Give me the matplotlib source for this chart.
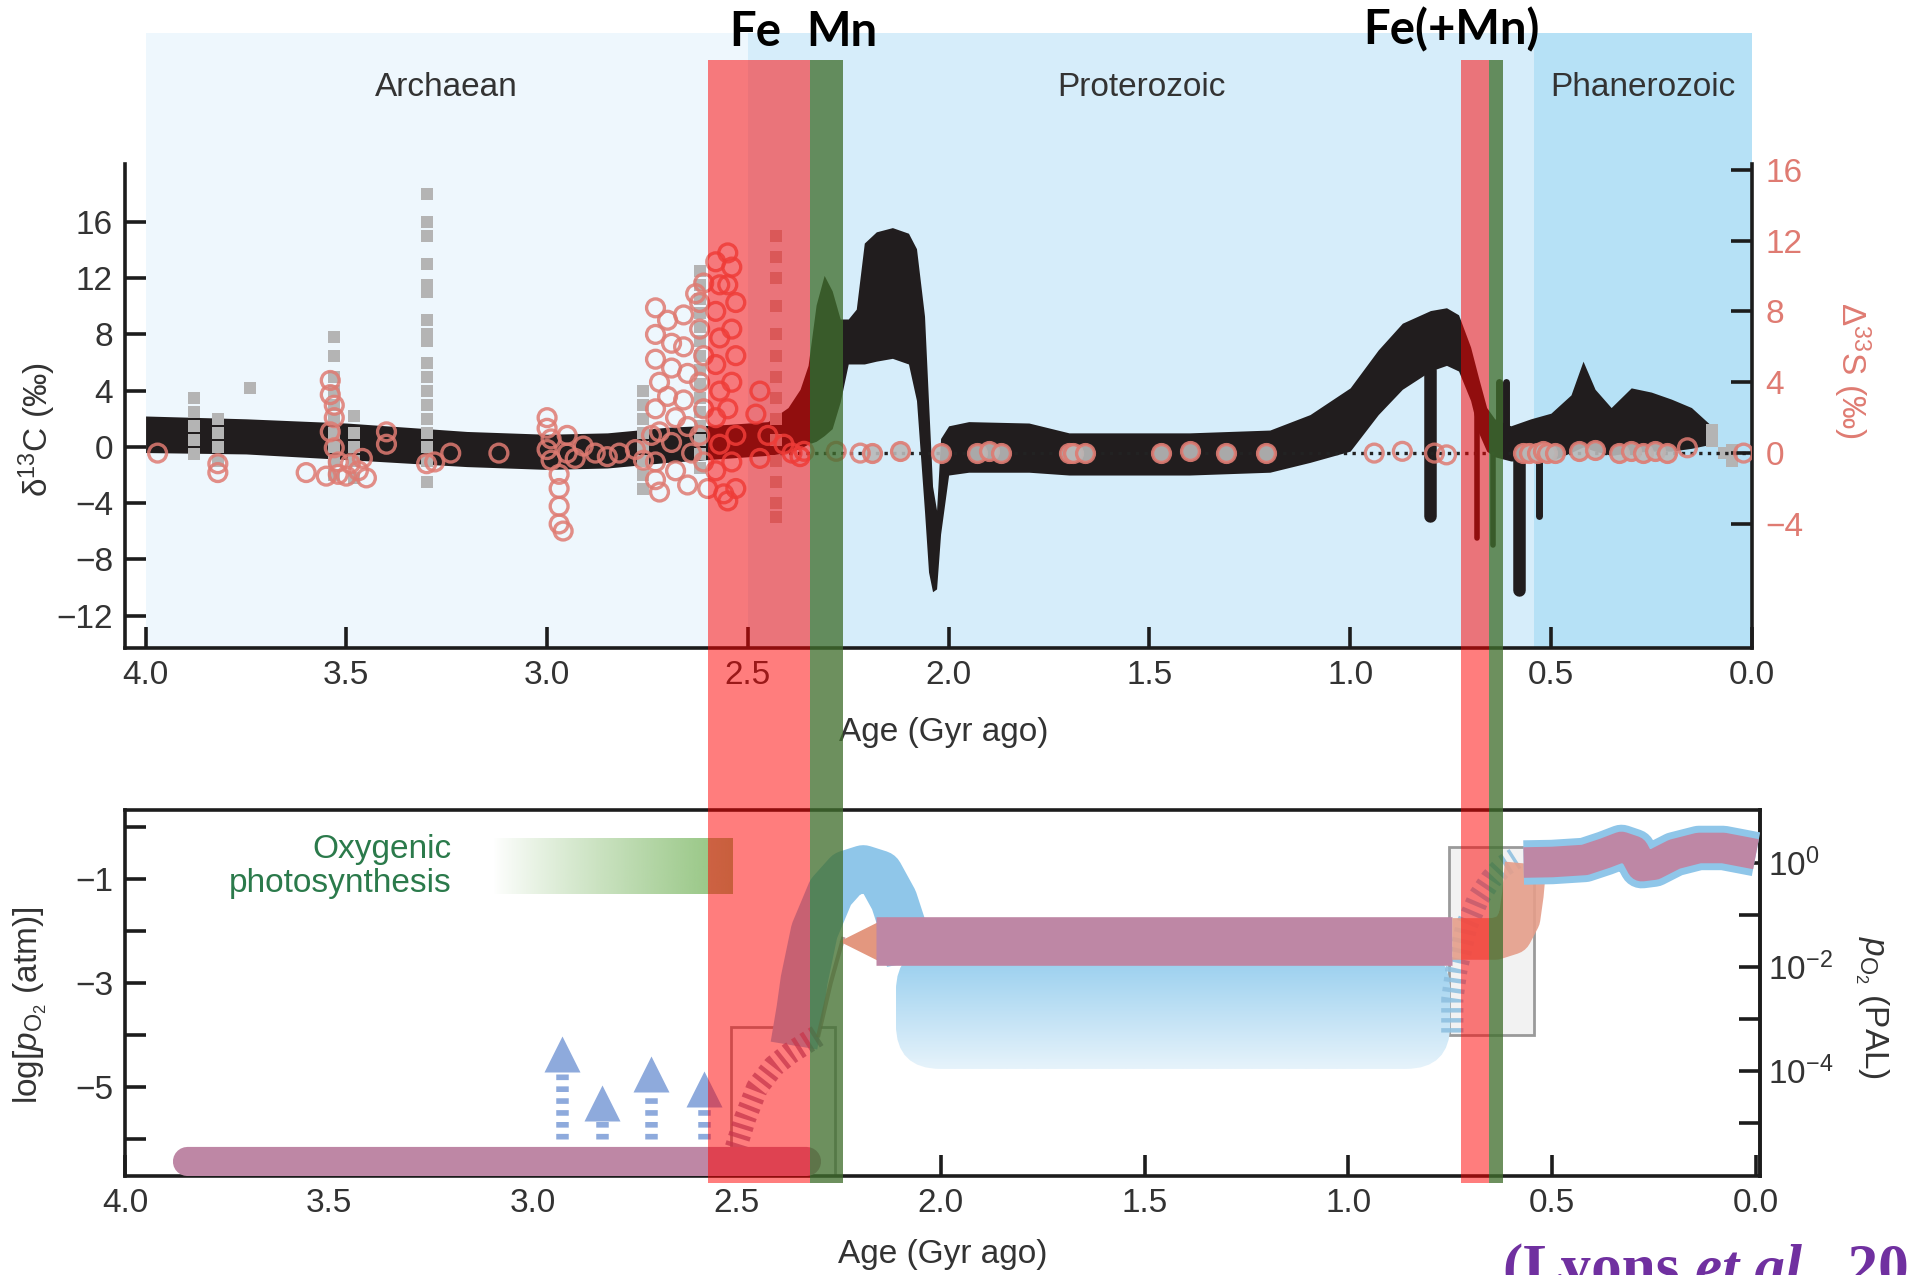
import matplotlib
matplotlib.use("Agg")
import matplotlib.pyplot as plt
import matplotlib.transforms as mtransforms
from matplotlib.patches import Rectangle, FancyBboxPatch
from matplotlib.text import Annotation
import numpy as np

plt.rcParams['font.family'] = ['Liberation Sans', 'DejaVu Sans']
plt.rcParams['mathtext.fontset'] = 'custom'
plt.rcParams['mathtext.rm'] = 'Liberation Sans'
plt.rcParams['mathtext.it'] = 'Liberation Sans:italic'
plt.rcParams['mathtext.bf'] = 'Liberation Sans:bold'

# ---------------- data ----------------
age_ticks = [4.0, 3.5, 3.0, 2.5, 2.0, 1.5, 1.0, 0.5, 0.0]

era_names = ['Archaean', 'Proterozoic', 'Phanerozoic']
era_start = [4.0, 2.5, 0.541]
era_end = [2.5, 0.541, 0.0]
era_color = ['#eef7fd', '#d6edfa', '#b6e1f6']

# delta13C envelope (black band)
c_age = [4.00, 3.75, 3.50, 3.20, 3.00, 2.85, 2.70, 2.55, 2.45, 2.40,
         2.37, 2.35, 2.33, 2.31, 2.29, 2.27, 2.25, 2.23, 2.21, 2.18,
         2.14, 2.10, 2.08, 2.06, 2.05, 2.04, 2.03, 2.02, 2.00, 1.95,
         1.80, 1.70, 1.40, 1.20, 1.10, 1.00, 0.93, 0.87, 0.80, 0.76,
         0.73, 0.70, 0.68, 0.66, 0.64, 0.60, 0.55, 0.50, 0.45, 0.42,
         0.39, 0.35, 0.30, 0.25, 0.20, 0.15, 0.10, 0.09]
c_upper = [2.2, 2.0, 1.7, 1.1, 0.9, 1.0, 1.4, 1.6, 1.8, 2.8,
           4.1, 5.8, 10.1, 12.2, 11.1, 9.1, 9.1, 9.8, 14.5, 15.3,
           15.6, 15.2, 14.1, 9.3, 3.2, -2.8, -4.5, 0.6, 1.5, 1.8,
           1.7, 1.0, 1.0, 1.2, 2.3, 4.2, 6.9, 8.8, 9.7, 9.9,
           9.4, 7.1, 4.9, 2.8, 2.0, 1.5, 2.0, 2.4, 3.7, 6.1,
           4.1, 2.8, 4.2, 3.9, 3.4, 2.8, 1.5, 0.8]
c_lower = [-0.4, -0.5, -0.9, -1.4, -1.6, -1.5, -1.1, -0.8, -0.6, -0.4,
           -0.1, 0.2, 0.4, 0.8, 1.3, 3.2, 5.9, 5.9, 5.9, 6.1,
           6.3, 5.9, 3.3, -4.6, -8.9, -10.3, -10.1, -6.2, -2.0, -1.8,
           -1.8, -2.0, -2.0, -1.8, -1.1, -0.3, 2.3, 4.1, 5.4, 5.8,
           5.4, 3.3, 1.0, -0.3, -0.7, -1.0, -1.0, -1.0, -0.4, 0.0,
           -0.3, -0.6, -0.4, -0.3, -0.3, -0.1, 0.2, 0.4]
spike_age = [0.80, 0.685, 0.645, 0.630, 0.612, 0.580, 0.530]
spike_top = [5.5, 3.0, 1.0, 4.6, 4.6, 0.0, 1.0]
spike_bot = [-4.9, -6.5, -7.0, 0.0, 0.0, -10.2, -4.9]
spike_w = [9, 4, 4, 5, 5, 9, 5]

# delta13C individual data (grey squares)
g_age = [3.88, 3.88, 3.88, 3.88, 3.88, 3.82, 3.82, 3.82, 3.82, 3.74,
         3.53, 3.53, 3.53, 3.53, 3.53, 3.53, 3.53, 3.53, 3.53, 3.53,
         3.48, 3.48, 3.48, 3.48, 3.48,
         3.30, 3.30, 3.30, 3.30, 3.30, 3.30, 3.30, 3.30, 3.30, 3.30,
         3.30, 3.30, 3.30, 3.30, 3.30, 3.30, 3.30, 3.30,
         2.76, 2.76, 2.76, 2.76, 2.76, 2.76, 2.76, 2.76,
         2.62, 2.62, 2.62, 2.62, 2.62, 2.62, 2.62, 2.62, 2.62, 2.62,
         2.62, 2.62, 2.62, 2.62, 2.62,
         2.43, 2.43, 2.43, 2.43, 2.43, 2.43, 2.43, 2.43, 2.43, 2.43,
         2.43, 2.43, 2.43, 2.43,
         0.10, 0.10, 0.07, 0.05, 0.05]
g_val = [3.5, 2.5, 1.5, 0.5, -0.5, 2.0, 1.0, 0.0, -1.0, 4.2,
         7.8, 6.5, 5.0, 4.0, 3.0, 2.0, 1.0, 0.0, -1.0, -2.0,
         2.2, 1.0, 0.0, -1.0, -2.2,
         18.0, 16.0, 15.0, 13.0, 11.5, 11.0, 9.0, 8.0, 7.5, 6.0,
         5.0, 4.0, 3.0, 2.0, 1.0, 0.0, -1.0, -2.5,
         4.0, 3.0, 2.0, 1.0, 0.0, -1.0, -2.0, -3.0,
         12.5, 11.5, 10.5, 9.5, 8.5, 7.5, 6.5, 5.5, 4.5, 3.5,
         2.5, 1.5, 0.5, -0.5, -1.5,
         15.0, 13.5, 12.0, 10.0, 8.0, 6.5, 5.0, 3.5, 2.0, 0.5,
         -1.0, -2.5, -4.0, -5.0,
         1.2, 0.4, -0.4, -1.0, -0.2]

# Delta33S (open circles)
s_age = [3.97, 3.82, 3.82, 3.60, 3.54, 3.54, 3.53, 3.53, 3.54, 3.53,
         3.52, 3.52, 3.55, 3.50, 3.49, 3.47, 3.46, 3.45, 3.40, 3.40,
         3.30, 3.28, 3.24, 3.12, 3.00, 3.00, 2.99, 3.00, 2.99, 2.97,
         2.97, 2.97, 2.97, 2.96, 2.95, 2.95, 2.93, 2.91, 2.88, 2.85,
         2.82, 2.78, 2.76, 2.74, 2.73, 2.73, 2.73, 2.72, 2.73, 2.72,
         2.73, 2.73, 2.72, 2.70, 2.69, 2.69, 2.70, 2.68, 2.69, 2.68,
         2.66, 2.66, 2.65, 2.66, 2.65, 2.64, 2.65, 2.63, 2.62, 2.61,
         2.62, 2.61, 2.62, 2.61, 2.62, 2.61, 2.60, 2.58, 2.57, 2.58,
         2.57, 2.58, 2.57, 2.58, 2.57, 2.58, 2.56, 2.55, 2.54, 2.55,
         2.53, 2.54, 2.53, 2.54, 2.55, 2.53, 2.54, 2.53, 2.55, 2.47,
         2.48, 2.45, 2.47, 2.41, 2.39, 2.37, 2.36, 2.28, 2.22, 0.94,
         0.87, 0.79, 0.76, 0.16, 0.02]
s_val = [0.0, -0.6, -1.1, -1.1, 4.1, 3.3, 2.7, 2.0, 1.2, 0.3,
         -0.5, -1.2, -1.3, -1.3, -0.6, -1.0, -0.3, -1.4, 0.5, 1.2,
         -0.6, -0.5, 0.0, 0.0, 2.0, 1.4, 0.8, 0.2, -0.4, -1.2,
         -2.0, -3.0, -4.0, -4.4, 1.0, 0.0, -0.3, 0.4, 0.0, -0.2,
         0.0, 0.2, -0.4, 1.0, 8.2, 6.7, 5.3, 4.0, 2.5, 1.2,
         -0.5, -1.5, -2.2, 7.5, 6.2, 4.8, 3.2, 2.0, 0.6, -1.0,
         7.8, 6.0, 4.5, 3.0, 1.5, 0.0, -1.8, 9.0, 8.5, 9.6,
         7.0, 5.5, 4.0, 2.5, 1.0, -0.5, -2.0, 10.8, 9.5, 8.0,
         6.5, 5.0, 3.5, 2.0, 0.5, -1.0, -2.3, 11.3, 10.5, 9.5,
         8.5, 7.0, 5.5, 4.0, 2.5, 1.0, -0.5, -2.0, -2.7, 3.5,
         2.2, 1.0, -0.3, 0.5, 0.0, -0.2, 0.1, 0.1, 0.0, 0.0,
         0.1, 0.0, -0.1, 0.3, 0.0]
# Delta33S (grey-filled circles)
f_age = [2.19, 2.12, 2.02, 1.93, 1.90, 1.87, 1.70, 1.69, 1.66, 1.47,
         1.40, 1.31, 1.21, 0.57, 0.555, 0.535, 0.52, 0.51, 0.49, 0.43,
         0.39, 0.33, 0.30, 0.27, 0.24, 0.21]
f_val = [0.0, 0.1, 0.0, 0.0, 0.1, 0.0, 0.0, 0.0, 0.0, 0.0,
         0.1, 0.0, 0.0, 0.0, 0.0, 0.0, 0.1, 0.0, 0.0, 0.1,
         0.2, 0.0, 0.1, 0.0, 0.1, 0.0]
zero_line_start = 2.42

c_ticks = [-12, -8, -4, 0, 4, 8, 12, 16]
s_ticks = [-4, 0, 4, 8, 12, 16]

# ---- pO2 panel ----
atm_ticks = [0, -1, -2, -3, -4, -5, -6]
atm_labels = ['', '\u22121', '', '\u22123', '', '\u22125', '']
pal_offset = 0.68
pal_ticks = [0, -1, -2, -3, -4, -5]
pal_labels = ['$10^{0}$', '', '$10^{-2}$', '', '$10^{-4}$', '']

arc_age = [3.85, 2.33]
arc_log = [-6.42, -6.42]

arr_age = [2.93, 2.83, 2.71, 2.58]
arr_tip = [-4.03, -4.98, -4.42, -4.70]
arr_base = -6.0

oxy_age = [3.10, 2.51]
oxy_log = [-1.28, -0.22]

arch_age = [2.36, 2.345, 2.335, 2.31, 2.27, 2.23, 2.19, 2.15, 2.115, 2.09, 2.075]
arch_log = [-4.2, -3.5, -2.94, -2.0, -1.25, -0.9, -0.8, -0.9, -1.4, -2.0, -2.6]

box_age = [2.11, 0.75]
box_log = [-4.65, -2.3]

pro_age = [2.16, 0.745]
pro_log = [-2.19, -2.19]
pro_arrow_age = 2.19

h1_age = [2.51, 2.48, 2.45, 2.41, 2.37, 2.33, 2.30]
h1_log = [-6.35, -5.6, -5.0, -4.6, -4.35, -4.15, -4.0]
h2_age = [0.745, 0.745, 0.735, 0.71, 0.68, 0.65, 0.62, 0.59]
h2_log = [-3.95, -3.3, -2.75, -1.9, -1.35, -1.0, -0.75, -0.6]
thin_age = [2.30, 2.27, 2.24]
thin_log = [-4.0, -3.0, -2.15]

tr_age = [0.745, 0.64, 0.60, 0.58, 0.572, 0.568, 0.565]
tr_log = [-2.15, -2.15, -2.05, -1.75, -1.3, -0.95, -0.7]

ph_age = [0.57, 0.50, 0.42, 0.37, 0.33, 0.30, 0.28, 0.25, 0.20, 0.14, 0.08, 0.0]
ph_log = [-0.68, -0.67, -0.63, -0.50, -0.38, -0.46, -0.75, -0.72, -0.52, -0.40, -0.40, -0.52]

gbox1 = [2.515, 2.26, -6.7, -3.85]
gbox2 = [0.753, 0.544, -4.0, -0.39]

# overlay bands (ages on top axis)
band_start = [2.60, 2.345, 0.725, 0.655]
band_end = [2.345, 2.262, 0.655, 0.619]
band_color = ['#ff0000', '#416f2e', '#ff0000', '#416f2e']
band_alpha = [0.51, 0.77, 0.51, 0.77]

ink = '#1c1c1c'
txt = '#333333'
salmon = '#df7b72'
mauve = '#be87a5'
blue = '#8fc6e9'

# ---------------- figure ----------------
fig = plt.figure(figsize=(19.1, 12.75), dpi=100)
ax = fig.add_axes([0.0657, 0.4918, 0.8514, 0.3793])
ax2 = ax.twinx()
bx = fig.add_axes([0.0657, 0.0780, 0.8558, 0.2867])

# ---- top panel ----
for a0, a1, col in zip(era_start, era_end, era_color):
    ax.axvspan(a0, a1, ymin=0, ymax=1.272, color=col, lw=0, clip_on=False, zorder=0)
tr_era = mtransforms.blended_transform_factory(ax.transData, ax.transAxes)
for name, a0, a1 in zip(era_names, era_start, era_end):
    ax.text((a0 + a1) / 2, 1.158, name, transform=tr_era, ha='center', va='center',
            fontsize=24, color=txt)

ax.fill_between(c_age, c_lower, c_upper, color='#211d1e', lw=0, zorder=2)
sp = ax.vlines(spike_age, spike_bot, spike_top, colors='#211d1e', linewidths=spike_w, zorder=2)
sp.set_capstyle('round')
ax.scatter(g_age, g_val, marker='s', s=70, color='#b4b4b4', lw=0, zorder=3)

ax2.plot([zero_line_start, 0.0], [0, 0], ls=(0, (1, 1.6)), color='#222222', lw=2.4, zorder=1)
ax2.scatter(f_age, f_val, s=165, facecolors='#b9b9b9', edgecolors=salmon, linewidths=2.4,
            alpha=0.9, zorder=3)
ax2.scatter(s_age, s_val, s=165, facecolors='none', edgecolors=salmon, linewidths=2.4,
            alpha=0.85, zorder=4)

ax.set_xlim(4.05, 0.0)
ax.set_ylim(-14.3, 20.1)
ax2.set_ylim(-11.0, 16.3)
ax.set_xticks(age_ticks)
ax.set_xticklabels([f'{t:.1f}' for t in age_ticks])
ax.set_yticks(c_ticks)
ax2.set_yticks(s_ticks)

ax.spines['top'].set_visible(False)
ax.spines['right'].set_visible(False)
for s in ['top', 'left', 'bottom']:
    ax2.spines[s].set_visible(False)
for s in ['left', 'bottom']:
    ax.spines[s].set_linewidth(2.6)
    ax.spines[s].set_color(ink)
ax2.spines['right'].set_linewidth(2.6)
ax2.spines['right'].set_color(ink)
ax.tick_params(direction='in', length=15, width=2.6, labelsize=24, pad=9,
               color=ink, labelcolor=txt)
ax2.tick_params(direction='in', length=15, width=2.6, labelsize=24, pad=10,
                color=ink, labelcolor=salmon)

ax.text(0.503, -0.174, 'Age (Gyr ago)', transform=ax.transAxes, ha='center', va='center',
        fontsize=24, color=txt)
ax.text(-0.054, 0.451, '\u03b4$^{13}$C (\u2030)', transform=ax.transAxes, ha='center',
        va='center', rotation=90, fontsize=24, color=txt)
ax.text(1.0615, 0.575, '\u0394$^{33}$S (\u2030)', transform=ax.transAxes, ha='center',
        va='center', rotation=270, fontsize=24, color=salmon)

# ---- bottom panel ----
# grey transition boxes
bx.add_patch(Rectangle((gbox2[0], gbox2[2]), gbox2[1] - gbox2[0], gbox2[3] - gbox2[2],
                       facecolor='#f2f2f2', edgecolor='#9a9a9a', lw=2, zorder=1))
bx.add_patch(Rectangle((gbox1[0], gbox1[2]), gbox1[1] - gbox1[0], gbox1[3] - gbox1[2],
                       facecolor='none', edgecolor='#9a9a9a', lw=2, zorder=1))

# oxygenic photosynthesis gradient bar
ng = 80
oxy = np.zeros((1, ng, 4))
oxy[0, :, :3] = np.array([145, 195, 125]) / 255
oxy[0, :, 3] = np.linspace(0, 1, ng) ** 0.9
bx.imshow(oxy, extent=(oxy_age[0], oxy_age[1], oxy_log[0], oxy_log[1]), aspect='auto',
          interpolation='bilinear', zorder=2)
bx.text(3.20, -0.76, 'Oxygenic\nphotosynthesis', ha='right', va='center', fontsize=24,
        color='#2b7a4b', linespacing=1.15)

# Proterozoic blue range box with gradient
grad = np.zeros((64, 1, 4))
tt = np.linspace(0, 1, 64)[:, None]
grad[:, 0, :3] = (np.array([145, 203, 237]) / 255) * (1 - tt) + (np.array([230, 243, 251]) / 255) * tt
grad[:, 0, 3] = 1
im = bx.imshow(grad, extent=(box_age[0], box_age[1], box_log[0], box_log[1]), aspect='auto',
               origin='upper', interpolation='bilinear', zorder=2)
clip = FancyBboxPatch((box_age[1], box_log[0]), box_age[0] - box_age[1], box_log[1] - box_log[0],
                      boxstyle='round,pad=0,rounding_size=0.11', mutation_aspect=7.8,
                      transform=bx.transData, facecolor='none', edgecolor='none')
bx.add_patch(clip)
im.set_clip_path(clip)

# blue arch (GOE overshoot)
bx.plot(arch_age, arch_log, color=blue, lw=34, solid_capstyle='butt', solid_joinstyle='round', zorder=2)

# hatched transitions
bx.plot(h1_age, h1_log, color='#8e6f9c', alpha=0.75, lw=16, dashes=(0.2, 0.25), zorder=3)
bx.plot(h2_age, h2_log, color='#8fc0e0', alpha=0.9, lw=16, dashes=(0.2, 0.25), zorder=3)
bx.plot(thin_age, thin_log, color='#a8797f', alpha=0.7, lw=3, zorder=3)

# arrows (whiffs of oxygen)
for a, tip in zip(arr_age, arr_tip):
    bx.plot([a, a], [arr_base, tip - 0.4], color='#8eaadc', lw=9, dashes=(0.45, 0.5), zorder=3)
    bx.plot([a], [tip - 0.33], marker='^', ms=26, color='#8eaadc', mec='none', zorder=3)

# Archaean band
bx.plot(arc_age, arc_log, color=mauve, lw=21, solid_capstyle='round', zorder=4)

# Proterozoic band and arrow
bx.plot([pro_arrow_age], [pro_log[0]], marker='<', ms=34, color='#e3977f', mec='none', zorder=3.9)
bx.plot(pro_age, pro_log, color=mauve, lw=35, solid_capstyle='butt', zorder=4)

# Neoproterozoic rise
bx.plot(tr_age, tr_log, color='#e59e8a', alpha=0.9, lw=30, solid_capstyle='butt',
        solid_joinstyle='round', zorder=4)

# Phanerozoic
bx.plot(ph_age, ph_log, color=blue, lw=32, solid_capstyle='butt', solid_joinstyle='round', zorder=4)
bx.plot(ph_age, ph_log, color=mauve, lw=22, solid_capstyle='butt', solid_joinstyle='round', zorder=5)

bx.set_xlim(4.0, -0.01)
bx.set_ylim(-6.7, 0.33)
bx.set_xticks(age_ticks)
bx.set_xticklabels([f'{t:.1f}' for t in age_ticks])
bx.set_yticks(atm_ticks)
bx.set_yticklabels(atm_labels)
for s in bx.spines.values():
    s.set_linewidth(2.6)
    s.set_color(ink)
bx.tick_params(direction='in', length=15, width=2.6, labelsize=24, pad=9,
               color=ink, labelcolor=txt)

bsec = bx.secondary_yaxis('right', functions=(lambda v: v + pal_offset, lambda v: v - pal_offset))
bsec.set_yticks(pal_ticks)
bsec.set_yticklabels(pal_labels)
bsec.tick_params(direction='in', length=15, width=2.6, labelsize=24, pad=6,
                 color=ink, labelcolor=txt)
bsec.spines['right'].set_linewidth(2.6)
bsec.spines['right'].set_color(ink)

bx.text(0.5, -0.216, 'Age (Gyr ago)', transform=bx.transAxes, ha='center', va='center',
        fontsize=24, color=txt)
bx.text(-0.058, 0.466, 'log[$p_{\\mathrm{O_2}}$ (atm)]', transform=bx.transAxes, ha='center',
        va='center', rotation=90, fontsize=24, color=txt)
bx.text(1.0685, 0.461, '$p_{\\mathrm{O_2}}$ (PAL)', transform=bx.transAxes, ha='center',
        va='center', rotation=270, fontsize=24, color=txt)

# ---- overlay Fe / Mn bands across both panels ----
tr_band = mtransforms.blended_transform_factory(ax.transData, fig.transFigure)
for a0, a1, col, al in zip(band_start, band_end, band_color, band_alpha):
    fig.add_artist(Rectangle((a0, 0.0723), a1 - a0, 0.9532 - 0.0723, transform=tr_band,
                             facecolor=col, alpha=al, lw=0, zorder=10))

lab = dict(fontfamily='Lato', fontweight='bold', fontsize=34, color='black', va='baseline',
           ha='center', zorder=11)
fig.text(0.3955, 0.9639, 'Fe', **lab)
fig.text(0.4408, 0.9639, 'Mn', **lab)
fig.text(0.7597, 0.9655, 'Fe(+Mn)', **lab)

# citation (cut at the bottom edge as in the original slide)
cit = dict(fontfamily='Liberation Serif', fontweight='bold', fontsize=44, color='#7030a0')
t1 = fig.text(1503 / 1910, -0.019, '(Lyons ', va='bottom', ha='left', **cit)
t2 = Annotation('et al.', xy=(1, 0), xycoords=t1, va='bottom', ha='left', fontstyle='italic', **cit)
fig.add_artist(t2)
t3 = Annotation(', 2014)', xy=(1, 0), xycoords=t2, va='bottom', ha='left', **cit)
fig.add_artist(t3)

fig.savefig('out.png', dpi=100)
